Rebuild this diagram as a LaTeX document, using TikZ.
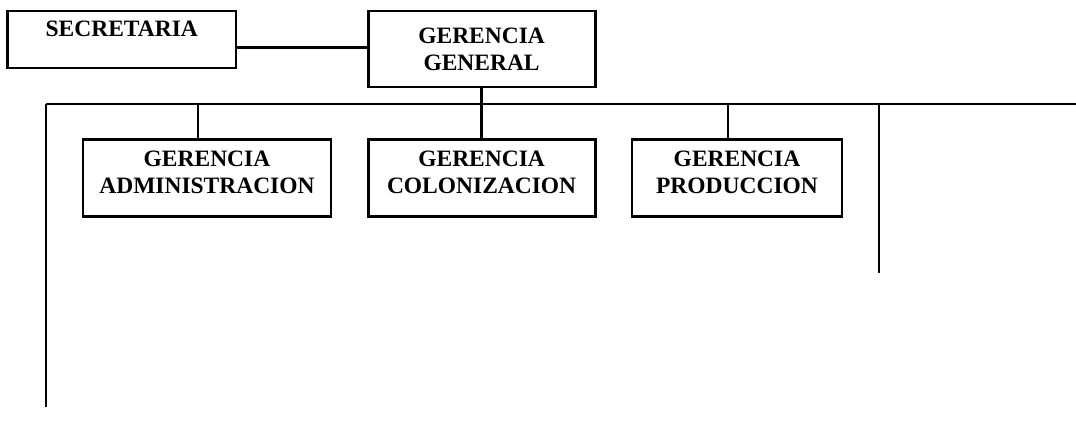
\documentclass[tikz,border=0pt]{standalone}
\usepackage{fontspec}
\setmainfont{Liberation Serif}
\usepackage{tikz}
\usetikzlibrary{calc}

\tikzset{
  box/.style={draw,line width=2pt,rectangle,align=center,inner sep=0pt,
    font=\fontsize{16.7}{19.2}\selectfont\bfseries},
  wire/.style={line width=2pt}
}

\begin{document}
\begin{tikzpicture}[scale=1,transform shape]
    \useasboundingbox (0,0) rectangle (26.9,-11.05);
    \node[box,minimum width=5.71cm,minimum height=1.425cm,text depth=0.53cm] (sec) at (3.044,-0.9875) {SECRETARIA};
    \node[box,minimum width=5.675cm,minimum height=1.9cm] (gg) at (12.04,-1.225) {GERENCIA\\GENERAL};
    \node[box,minimum width=6.2cm,minimum height=1.925cm,text depth=0.28cm] (adm) at (5.175,-4.45) {GERENCIA\\ADMINISTRACION};
    \node[box,minimum width=5.675cm,minimum height=1.925cm,text depth=0.28cm] (col) at (12.04,-4.45) {GERENCIA\\COLONIZACION};
    \node[box,minimum width=5.25cm,minimum height=1.925cm,text depth=0.28cm] (pro) at (18.425,-4.45) {GERENCIA\\PRODUCCION};
    \coordinate (busl) at (1.15,-2.6);
    \coordinate (busr) at (26.9,-2.6);
    \coordinate (endl) at (1.15,-10.175);
    \coordinate (topr) at (21.975,-2.6);
    \coordinate (endr) at (21.975,-6.825);
    \draw[wire] ([yshift=-0.2cm]sec.east) -- ([yshift=-0.2cm]sec.east -| gg.west);
    \draw[wire] (busl) -- (busr);
    \draw[wire] (gg.south) -- (gg.south |- busl);
    \draw[wire] ([xshift=-0.225cm]adm.north) -- ([xshift=-0.225cm]adm.north |- busl);
    \draw[wire] (col.north) -- (col.north |- busl);
    \draw[wire] ([xshift=-0.225cm]pro.north) -- ([xshift=-0.225cm]pro.north |- busl);
    \draw[wire] (busl) -- (endl);
    \draw[wire] (topr) -- (endr);
  \end{tikzpicture}
\end{document}
